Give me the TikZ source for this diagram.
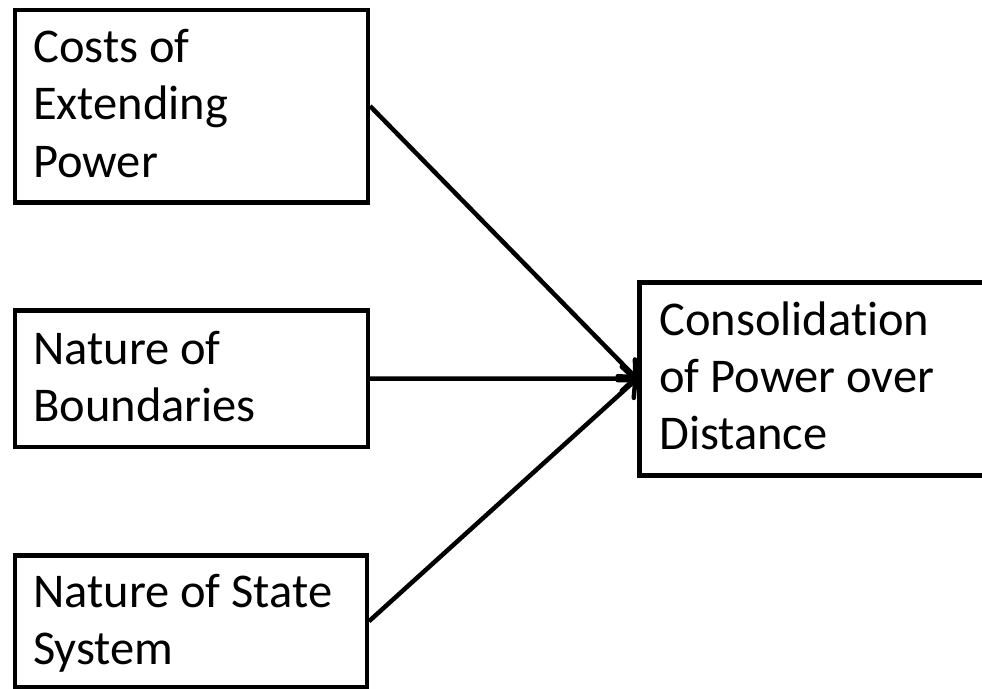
\documentclass[tikz,border=0pt]{standalone}
\usepackage{fontspec}
\setmainfont{Carlito}[Ligatures=NoCommon]
\usetikzlibrary{arrows.meta}
\begin{document}
\begin{tikzpicture}[x=1pt,y=-1pt,
  box/.style={draw=black,line width=4.5pt,rectangle,inner sep=0pt,anchor=north west},
  lbl/.style={anchor=base west,inner sep=0pt,font=\fontsize{48.5}{57.5}\selectfont},
  conn/.style={line width=4.5pt,-{Straight Barb[length=13pt,width=24pt,line cap=round,line join=round]}}]
\useasboundingbox (0,0) rectangle (982,688);
\clip (0,0) rectangle (982,688);
\fill[white] (0,0) rectangle (982,688);
\node[box,minimum width=353pt,minimum height=192.5pt] (b1) at (12.5,7.5) {};
\node[box,minimum width=353pt,minimum height=136.5pt] (b2) at (12.5,308) {};
\node[box,minimum width=352pt,minimum height=132pt] (b3) at (12.5,553) {};
\node[box,minimum width=450pt,minimum height=193pt] (b4) at (637,280) {};
\node[lbl] (t11) at (33,62) {Costs of};
\node[lbl] (t12) at (33,119.5) {Extending};
\node[lbl] (t13) at (33,177) {Power};
\node[lbl] (t21) at (33,364) {Nature of};
\node[lbl] (t22) at (33,421) {Boundaries};
\node[lbl] (t31) at (33,607) {Nature of State};
\node[lbl] (t32) at (33,664.5) {System};
\node[lbl] (t41) at (659,335) {Consolidation};
\node[lbl] (t42) at (659,392) {of Power over};
\node[lbl] (t43) at (659,449) {Distance};
\draw[conn] (b1.east) -- (b4.west);
\draw[conn] (b2.east) -- (b4.west);
\draw[conn] (b3.east) -- (b4.west);
\end{tikzpicture}
\end{document}
